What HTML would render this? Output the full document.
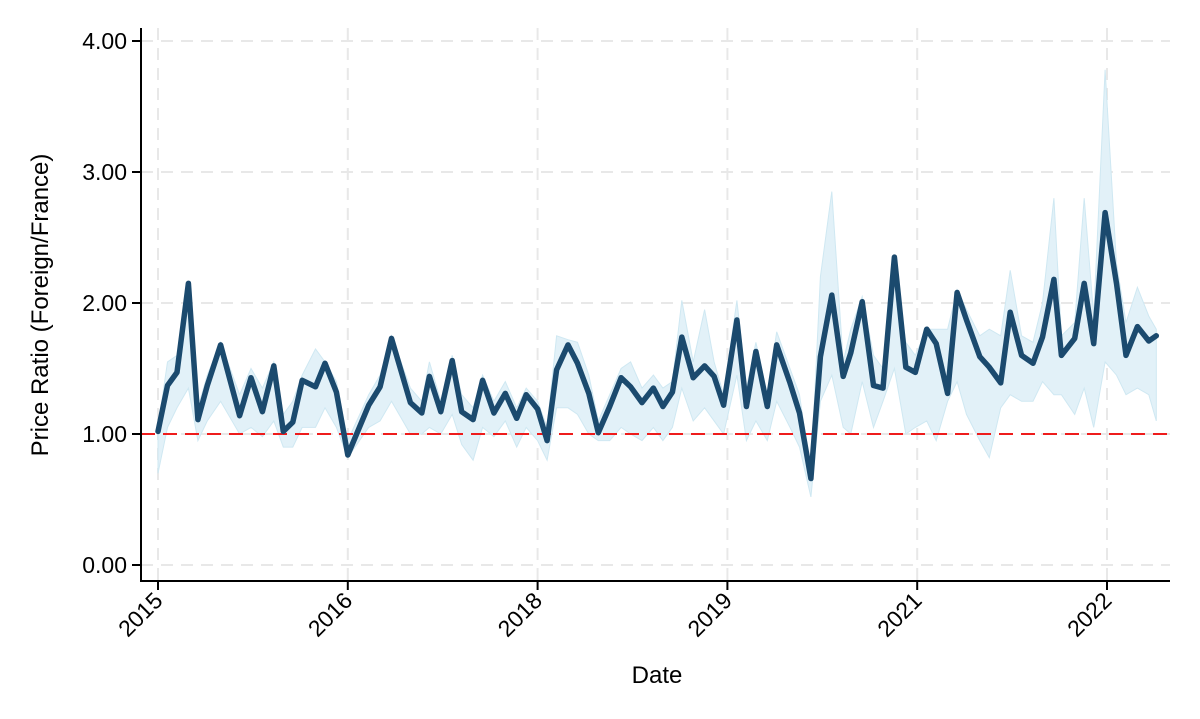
<!DOCTYPE html>
<html><head><meta charset="utf-8"><style>
html,body{margin:0;padding:0;background:#fff;}
svg{display:block;font-family:"Liberation Sans",Arial,sans-serif;}
</style></head><body>
<svg id="chart" width="1200" height="719" viewBox="0 0 1200 719">
<g id="grid"></g>
<g id="band"></g>
<g id="ref"></g>
<g id="line"></g>
<g id="axes"></g>
<text x="48" y="305" font-size="24" text-anchor="middle" transform="rotate(-90 48 305)" fill="#000">Price Ratio (Foreign/France)</text>
<text x="657" y="683" font-size="24" text-anchor="middle" fill="#000">Date</text>
</svg>
<script>
const tickLabels = ["2015","2016","2018","2019","2021","2022"];
const yTicks = [0,1,2,3,4];
const times = [0.00,0.05,0.10,0.16,0.21,0.26,0.33,0.43,0.49,0.55,0.61,0.66,0.71,0.76,0.83,0.88,0.94,1.00,1.11,1.17,1.23,1.33,1.39,1.43,1.49,1.55,1.60,1.66,1.71,1.77,1.83,1.89,1.94,2.00,2.05,2.10,2.16,2.21,2.27,2.32,2.38,2.44,2.49,2.55,2.61,2.66,2.71,2.76,2.82,2.88,2.93,2.98,3.05,3.10,3.15,3.21,3.26,3.33,3.38,3.44,3.49,3.55,3.61,3.65,3.71,3.77,3.82,3.88,3.94,3.99,4.05,4.10,4.16,4.21,4.26,4.33,4.38,4.44,4.49,4.55,4.61,4.66,4.72,4.76,4.83,4.88,4.93,4.99,5.05,5.10,5.16,5.22,5.26];
const ratio = [1.02,1.37,1.47,2.15,1.11,1.37,1.68,1.14,1.43,1.17,1.52,1.02,1.09,1.41,1.36,1.54,1.32,0.84,1.22,1.36,1.73,1.24,1.16,1.44,1.17,1.56,1.17,1.11,1.41,1.16,1.31,1.12,1.30,1.19,0.95,1.49,1.68,1.54,1.31,1.01,1.21,1.43,1.36,1.24,1.35,1.21,1.32,1.74,1.43,1.52,1.44,1.22,1.87,1.21,1.63,1.21,1.68,1.39,1.16,0.66,1.59,2.06,1.44,1.62,2.01,1.37,1.35,2.35,1.51,1.47,1.80,1.69,1.31,2.08,1.87,1.59,1.51,1.39,1.93,1.60,1.54,1.74,2.18,1.60,1.73,2.15,1.69,2.69,2.15,1.60,1.82,1.71,1.75];
const upper = [1.05,1.55,1.6,2.15,1.2,1.45,1.7,1.3,1.5,1.35,1.55,1.15,1.25,1.45,1.65,1.55,1.4,0.95,1.3,1.45,1.75,1.35,1.25,1.55,1.25,1.6,1.3,1.2,1.45,1.25,1.4,1.2,1.35,1.25,1.05,1.75,1.72,1.7,1.45,1.1,1.3,1.5,1.55,1.35,1.45,1.35,1.4,2.02,1.55,1.95,1.55,1.3,2.02,1.35,1.7,1.3,1.78,1.5,1.3,0.7,2.2,2.85,1.55,1.8,2.05,1.6,1.5,2.35,1.7,1.6,1.8,1.8,1.8,2.1,1.95,1.75,1.8,1.75,2.25,1.75,1.7,2.0,2.8,1.75,1.85,2.8,1.9,3.78,2.3,1.85,2.12,1.9,1.8];
const lower = [0.7,1.05,1.2,1.35,0.95,1.1,1.25,1.0,1.05,0.98,1.1,0.9,0.9,1.05,1.05,1.2,1.05,0.82,1.05,1.1,1.25,1.0,1.0,1.05,1.0,1.15,0.92,0.8,1.05,0.98,1.1,0.9,1.05,0.95,0.8,1.2,1.2,1.15,1.0,0.95,0.95,1.05,1.0,0.95,1.05,0.95,1.05,1.35,1.1,1.2,1.1,1.0,1.45,0.95,1.1,0.95,1.25,1.05,0.9,0.52,1.25,1.45,1.05,1.0,1.4,1.05,1.25,1.5,1.0,1.05,1.1,0.95,1.25,1.4,1.15,0.95,0.82,1.2,1.3,1.25,1.25,1.4,1.3,1.3,1.15,1.35,1.05,1.55,1.45,1.3,1.35,1.3,1.1];
const refValue = 1.0;

const NS = "http://www.w3.org/2000/svg";
const xS = t => 158 + t * 189.8;
const yS = v => 565 - v * 131;
function mk(tag, attrs, parent){ const e=document.createElementNS(NS,tag); for(const k in attrs) e.setAttribute(k,attrs[k]); parent.appendChild(e); return e; }

const grid = document.getElementById('grid');
yTicks.forEach(v => {
  const l = mk('line',{x1:141,x2:1170,y1:yS(v),y2:yS(v),stroke:'#e8e8e8','stroke-width':2,'stroke-dasharray':'12,8'},grid);
  
  
});
tickLabels.forEach((s,i) => {
  const l = mk('line',{x1:xS(i),x2:xS(i),y1:28,y2:581,stroke:'#e8e8e8','stroke-width':2,'stroke-dasharray':'12,8'},grid);
  
  
});

const band = document.getElementById('band');
let d = '';
times.forEach((t,i)=>{ d += (i?'L':'M') + xS(t).toFixed(1)+','+yS(Math.max(upper[i],ratio[i])).toFixed(1); });
for(let i=times.length-1;i>=0;i--){ d += 'L'+xS(times[i]).toFixed(1)+','+yS(Math.min(lower[i],ratio[i])).toFixed(1); }
const bp = mk('path',{d:d+'Z',fill:'#e2f1f8',stroke:'#cfe8f2','stroke-width':1},band);



const ref = document.getElementById('ref');
const rl = mk('line',{x1:141,x2:1170,y1:yS(refValue),y2:yS(refValue),stroke:'#ee1c1c','stroke-width':2,'stroke-dasharray':'14,8'},ref);



const lineG = document.getElementById('line');
const pts = times.map((t,i)=>xS(t).toFixed(1)+','+yS(ratio[i]).toFixed(1)).join(' ');
const pl = mk('polyline',{points:pts,fill:'none',stroke:'#1b4a6e','stroke-width':5.5,'stroke-linejoin':'round','stroke-linecap':'round'},lineG);



const axes = document.getElementById('axes');
const ya = mk('line',{x1:141,x2:141,y1:28,y2:581,stroke:'#000','stroke-width':2},axes);


const xa = mk('line',{x1:140,x2:1170,y1:581,y2:581,stroke:'#000','stroke-width':2},axes);


yTicks.forEach(v => {
  const tk = mk('line',{x1:132,x2:141,y1:yS(v),y2:yS(v),stroke:'#000','stroke-width':2},axes);
  
  
  const tx = mk('text',{x:127,y:yS(v)+8,'font-size':23,'text-anchor':'end',fill:'#000'},axes);
  tx.textContent = v.toFixed(2);
  
  
});
tickLabels.forEach((s,i) => {
  const x = xS(i);
  const tk = mk('line',{x1:x,x2:x,y1:581,y2:590,stroke:'#000','stroke-width':2},axes);
  
  
  const tx = mk('text',{x:x+6,y:602,'font-size':23,'text-anchor':'end',fill:'#000',transform:`rotate(-45 ${x+6} 602)`},axes);
  tx.textContent = s;
  
  
});
</script>
</body></html>
